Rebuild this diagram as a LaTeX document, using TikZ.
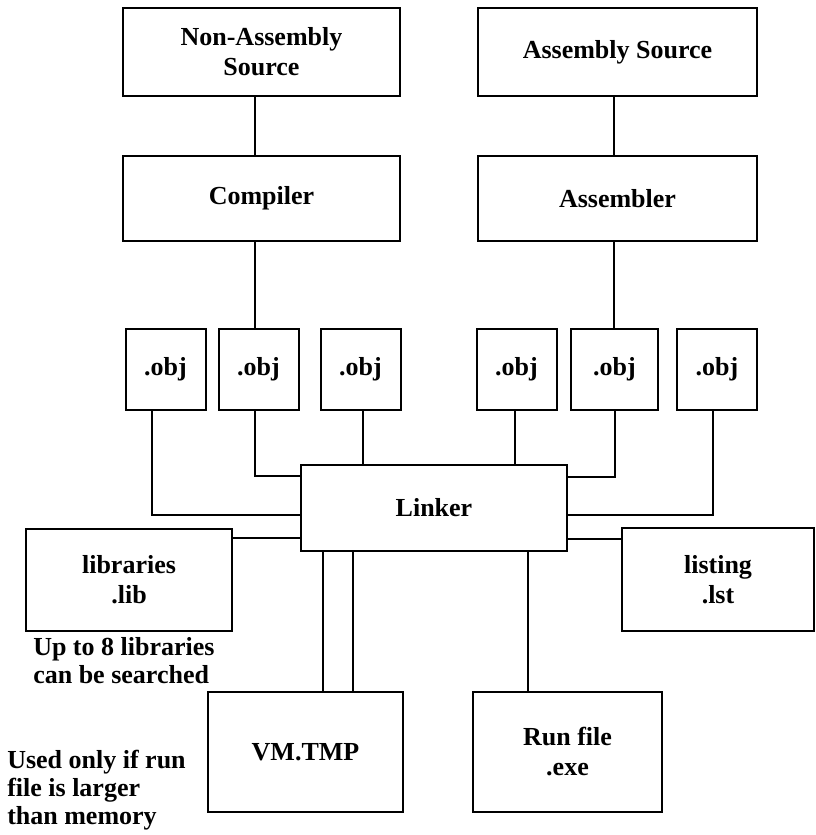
\documentclass[tikz,border=0pt]{standalone}
\usepackage{fontspec}
\setmainfont{Liberation Serif}

\begin{document}
\begin{tikzpicture}[x=0.75pt,y=-0.75pt,
  box/.style={draw=black, line width=1.5pt, inner sep=0pt, outer sep=0pt, align=center, font=\fontsize{19.5}{22.5}\selectfont\bfseries},
  objbox/.style={box, minimum width=60pt, minimum height=60.75pt},
  link/.style={line width=1.5pt},
  note/.style={anchor=north west, align=left, inner sep=0pt, font=\fontsize{19.5}{21}\selectfont\bfseries}]
\useasboundingbox (0,0) rectangle (816,835);
% sources and translators
\node[box, minimum width=207.75pt, minimum height=66pt] (nonasm) at (261.5,52) {Non-Assembly\\Source};
\node[box, minimum width=209.25pt, minimum height=66pt] (asmsrc) at (617.5,52) {Assembly Source};
\node[box, minimum width=207.75pt, minimum height=63.75pt] (compiler) at (261.5,198.5) {Compiler};
\node[box, minimum width=209.25pt, minimum height=63.75pt] (assembler) at (617.5,198.5) {Assembler};
% object files
\node[objbox] (obj1) at (165.5,369.5) {.obj};
\node[objbox] (obj2) at (258.5,369.5) {.obj};
\node[objbox] (obj3) at (360.5,369.5) {.obj};
\node[objbox] (obj4) at (516.5,369.5) {.obj};
\node[objbox, minimum width=65.25pt] (obj5) at (614.5,369.5) {.obj};
\node[objbox] (obj6) at (717,369.5) {.obj};
% linker and its files
\node[box, minimum width=199.5pt, minimum height=64.5pt] (linker) at (434,508) {Linker};
\node[box, minimum width=154.5pt, minimum height=76.5pt] (libs) at (129,580) {libraries\\.lib};
\node[box, minimum width=144pt, minimum height=77.25pt] (listing) at (718,579.5) {listing\\.lst};
\node[box, minimum width=146.25pt, minimum height=90pt] (vmtmp) at (305.5,752) {VM.TMP};
\node[box, minimum width=141.75pt, minimum height=90pt] (runfile) at (567.5,752) {Run file\\.exe};
\node[note] (libnote) at (33,637) {Up to 8 libraries\\can be searched};
\node[note] (vmnote) at (7,750) {Used only if run\\file is larger\\than memory};
% connectors
\draw[link] ([xshift=-5.25pt]nonasm.south) -- ([xshift=-5.25pt]compiler.north);
\draw[link] ([xshift=-2.5pt]asmsrc.south) -- ([xshift=-2.5pt]assembler.north);
\draw[link] ([xshift=-5.25pt]compiler.south) -- ([xshift=-5.25pt]compiler.south |- obj2.north);
\draw[link] ([xshift=-2.5pt]assembler.south) -- ([xshift=-2.5pt]assembler.south |- obj5.north);
\draw[link] ([xshift=-10.5pt]obj1.south) |- ([yshift=-5.25pt]linker.west);
\draw[link] ([xshift=-2.5pt]obj2.south) |- ([yshift=24pt]linker.west);
\draw[link] ([xshift=2pt]obj3.south) -- ([xshift=2pt]obj3.south |- linker.north);
\draw[link] ([xshift=-1pt]obj4.south) -- ([xshift=-1pt]obj4.south |- linker.north);
\draw[link] (obj5.south) |- ([yshift=23.25pt]linker.east);
\draw[link] ([xshift=-3pt]obj6.south) |- ([yshift=-5.25pt]linker.east);
\draw[link] (libs.east |- 0,538) -- (linker.west |- 0,538);
\draw[link] (listing.west |- 0,539) -- (linker.east |- 0,539);
\draw[link] (linker.south -| 323,0) -- (vmtmp.north -| 323,0);
\draw[link] (linker.south -| 353,0) -- (vmtmp.north -| 353,0);
\draw[link] (linker.south -| 528,0) -- (runfile.north -| 528,0);
\end{tikzpicture}
\end{document}
